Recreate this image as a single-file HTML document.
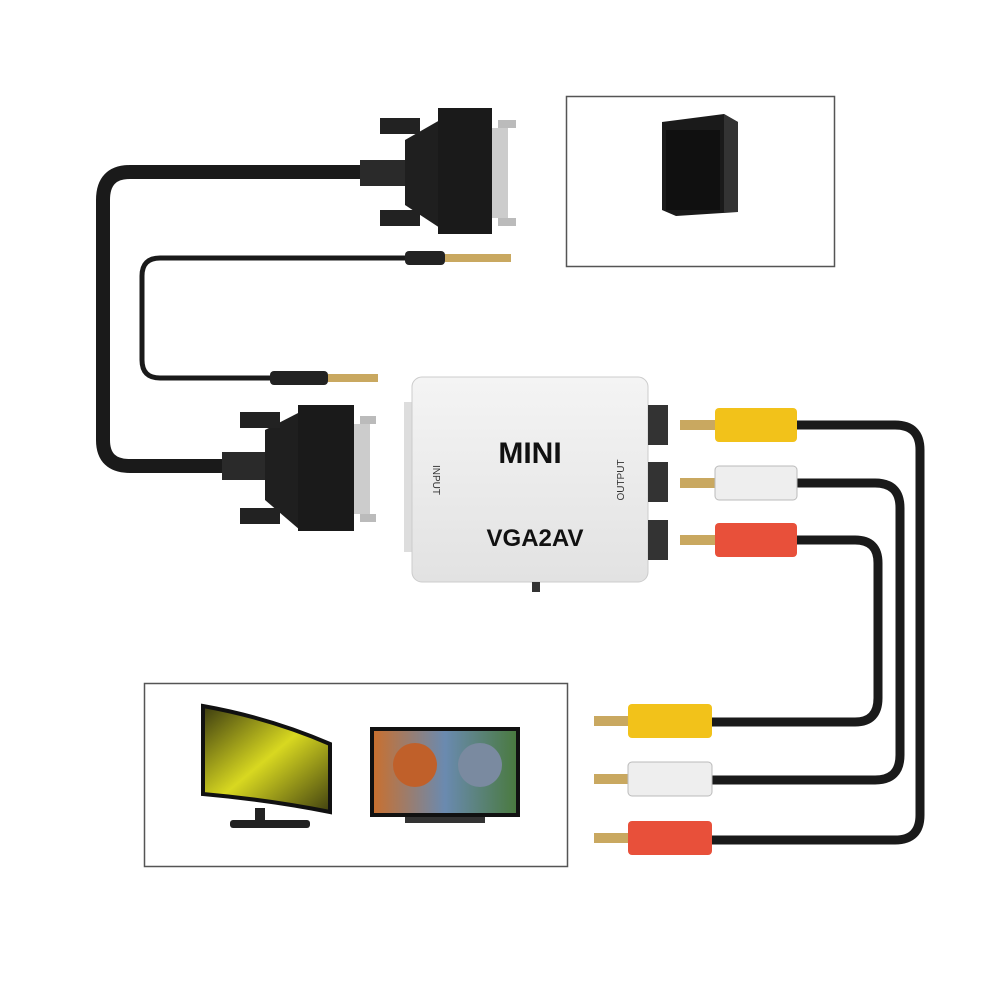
<!DOCTYPE html>
<html><head><meta charset="utf-8"><style>
html,body{margin:0;padding:0;background:#fff;}
svg{display:block}
text{font-family:"Liberation Sans",sans-serif}
</style></head><body>
<svg width="1000" height="1000" viewBox="0 0 1000 1000" xmlns="http://www.w3.org/2000/svg">
<defs>
<linearGradient id="box" x1="0" y1="0" x2="0" y2="1"><stop offset="0" stop-color="#f4f4f4"/><stop offset="1" stop-color="#e2e2e2"/></linearGradient>
<linearGradient id="scr" x1="0" y1="0" x2="1" y2="1"><stop offset="0" stop-color="#3a3a10"/><stop offset="0.5" stop-color="#d8d820"/><stop offset="1" stop-color="#404010"/></linearGradient>
<linearGradient id="tv" x1="0" y1="0" x2="1" y2="0"><stop offset="0" stop-color="#c87030"/><stop offset="0.5" stop-color="#6a8ab0"/><stop offset="1" stop-color="#4a7a40"/></linearGradient>
</defs>
<!-- frames -->
<rect x="566.5" y="96.5" width="268" height="170" fill="none" stroke="#555" stroke-width="1.5"/>
<rect x="144.5" y="683.5" width="423" height="183" fill="none" stroke="#555" stroke-width="1.5"/>
<!-- PC tower -->
<polygon points="662,122 724,114 738,122 738,212 676,216 662,210" fill="#1a1a1a"/>
<polygon points="724,114 738,122 738,212 724,212" fill="#333"/>
<rect x="666" y="130" width="54" height="80" fill="#101010"/>
<!-- monitor -->
<path d="M203,706 Q270,718 330,744 L330,812 Q270,800 203,794 Z" fill="url(#scr)" stroke="#111" stroke-width="4"/>
<rect x="255" y="808" width="10" height="14" fill="#222"/>
<rect x="230" y="820" width="80" height="8" rx="3" fill="#222"/>
<!-- TV -->
<rect x="370" y="727" width="150" height="90" fill="#111"/>
<rect x="374" y="731" width="142" height="82" fill="url(#tv)"/>
<circle cx="415" cy="765" r="22" fill="#c0602a"/><circle cx="480" cy="765" r="22" fill="#7a8aa0"/>
<rect x="405" y="817" width="80" height="6" fill="#333"/>
<!-- thick cable -->
<path d="M370,172 L130,172 Q103,172 103,200 L103,440 Q103,466 130,466 L245,466" fill="none" stroke="#1a1a1a" stroke-width="14"/>
<!-- thin audio cable -->
<path d="M405,258 L160,258 Q142,258 142,276 L142,360 Q142,378 160,378 L270,378" fill="none" stroke="#1a1a1a" stroke-width="5"/>
<!-- audio plugs -->
<rect x="405" y="251" width="40" height="14" rx="4" fill="#222"/><rect x="445" y="254" width="66" height="8" fill="#c9a860"/>
<rect x="270" y="371" width="58" height="14" rx="4" fill="#222"/><rect x="328" y="374" width="50" height="8" fill="#c9a860"/>
<!-- top VGA connector -->
<rect x="360" y="160" width="48" height="26" fill="#2a2a2a"/>
<polygon points="405,140 440,120 440,228 405,205" fill="#1f1f1f"/>
<rect x="438" y="108" width="54" height="126" fill="#1a1a1a"/>
<rect x="380" y="118" width="40" height="16" fill="#222"/><rect x="380" y="210" width="40" height="16" fill="#222"/>
<rect x="492" y="128" width="16" height="90" fill="#ccc"/><rect x="498" y="120" width="18" height="8" fill="#bbb"/><rect x="498" y="218" width="18" height="8" fill="#bbb"/>
<!-- bottom VGA -->
<rect x="222" y="452" width="48" height="28" fill="#2a2a2a"/>
<polygon points="265,430 300,412 300,530 265,500" fill="#1f1f1f"/>
<rect x="298" y="405" width="56" height="126" fill="#1a1a1a"/>
<rect x="240" y="412" width="40" height="16" fill="#222"/><rect x="240" y="508" width="40" height="16" fill="#222"/>
<rect x="354" y="424" width="16" height="90" fill="#ccc"/><rect x="360" y="416" width="16" height="8" fill="#bbb"/><rect x="360" y="514" width="16" height="8" fill="#bbb"/>
<!-- converter -->
<rect x="404" y="402" width="14" height="150" fill="#ddd"/>
<rect x="412" y="377" width="236" height="205" rx="10" fill="url(#box)" stroke="#ccc"/>
<text x="530" y="463" font-size="30" font-weight="bold" text-anchor="middle" fill="#111">MINI</text>
<text x="535" y="546" font-size="24" font-weight="bold" text-anchor="middle" fill="#111">VGA2AV</text>
<text transform="translate(433,480) rotate(90)" font-size="10" fill="#333" text-anchor="middle">INPUT</text>
<text transform="translate(624,480) rotate(-90)" font-size="10" fill="#333" text-anchor="middle">OUTPUT</text>
<rect x="532" y="582" width="8" height="10" fill="#333"/>
<g fill="#333"><rect x="648" y="405" width="20" height="40"/><rect x="648" y="462" width="20" height="40"/><rect x="648" y="520" width="20" height="40"/></g>
<!-- RCA cables -->
<g fill="none" stroke="#1a1a1a" stroke-width="9">
<path d="M797,425 L895,425 Q920,425 920,450 L920,815 Q920,840 895,840 L710,840"/>
<path d="M797,483 L875,483 Q900,483 900,508 L900,755 Q900,780 875,780 L710,780"/>
<path d="M797,540 L855,540 Q878,540 878,563 L878,698 Q878,722 855,722 L710,722"/>
</g>
<!-- RCA plugs top -->
<g>
<rect x="680" y="420" width="40" height="10" fill="#c9a860"/><rect x="715" y="408" width="82" height="34" rx="4" fill="#f2c21a"/>
<rect x="680" y="478" width="40" height="10" fill="#c9a860"/><rect x="715" y="466" width="82" height="34" rx="4" fill="#eee" stroke="#bbb"/>
<rect x="680" y="535" width="40" height="10" fill="#c9a860"/><rect x="715" y="523" width="82" height="34" rx="4" fill="#e8503a"/>
</g>
<!-- RCA plugs bottom -->
<g>
<rect x="594" y="716" width="40" height="10" fill="#c9a860"/><rect x="628" y="704" width="84" height="34" rx="4" fill="#f2c21a"/>
<rect x="594" y="774" width="40" height="10" fill="#c9a860"/><rect x="628" y="762" width="84" height="34" rx="4" fill="#eee" stroke="#bbb"/>
<rect x="594" y="833" width="40" height="10" fill="#c9a860"/><rect x="628" y="821" width="84" height="34" rx="4" fill="#e8503a"/>
</g>
</svg>
</body></html>
